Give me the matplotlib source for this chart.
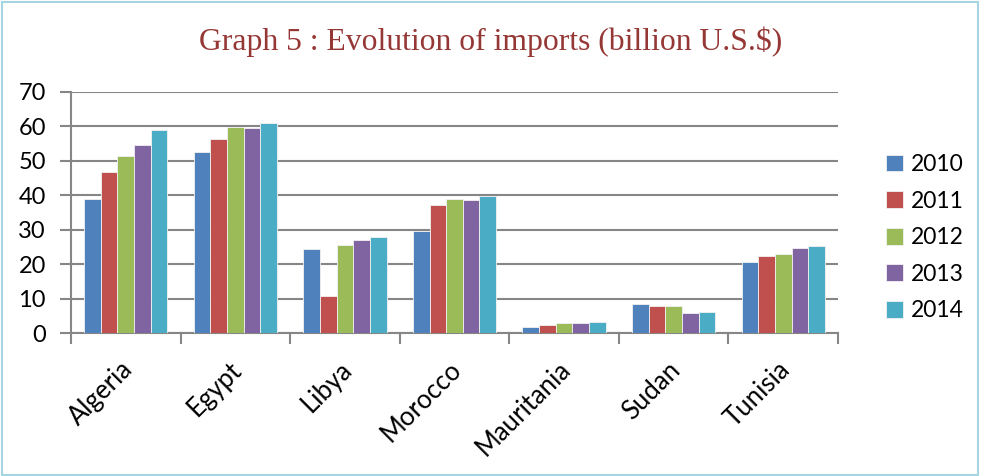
import matplotlib
matplotlib.use("Agg")
import matplotlib.pyplot as plt
import matplotlib.transforms as mtransforms
import numpy as np
from matplotlib.patches import Rectangle

categories = ["Algeria", "Egypt", "Libya", "Morocco", "Mauritania", "Sudan", "Tunisia"]
years = ["2010", "2011", "2012", "2013", "2014"]
v2010 = [38.8, 52.6, 24.3, 29.5, 1.8, 8.6, 20.8]
v2011 = [46.8, 56.4, 10.9, 37.2, 2.4, 7.9, 22.5]
v2012 = [51.5, 59.9, 25.5, 38.8, 2.9, 7.9, 23.0]
v2013 = [54.7, 59.4, 27.0, 38.6, 3.1, 5.8, 24.7]
v2014 = [58.9, 60.9, 27.8, 39.7, 3.3, 6.1, 25.3]
series = [v2010, v2011, v2012, v2013, v2014]
colors = ["#4F81BD", "#C0504D", "#9BBB59", "#8064A2", "#4BACC6"]
yticks = [0, 10, 20, 30, 40, 50, 60, 70]
title = "Graph 5 : Evolution of imports (billion U.S.$)"

plt.rcParams['font.family'] = ['Lato', 'DejaVu Sans']

fig = plt.figure(figsize=(9.81, 4.76), dpi=100)
ax = fig.add_axes([71/981, 1-333.3/476, (838-71)/981, (333.3-91.7)/476])

n = len(categories)
x = np.arange(n) + 0.5
bw = 0.152
for i, (vals, c, y) in enumerate(zip(series, colors, years)):
    ax.bar(x + (i - 2) * bw, vals, width=bw, color=c, label=y,
           edgecolor="#F2F2F2", linewidth=0.6, zorder=3)

ax.set_xlim(0, n)
ax.set_ylim(0, 70)
ax.set_yticks(yticks)
ax.set_yticklabels([str(t) for t in yticks], fontsize=17)
ax.yaxis.grid(True, color="#868686", linewidth=1.5, zorder=0)
ax.set_axisbelow(True)
ax.set_xticks(x)
ax.set_xticklabels(categories, rotation=45, ha="right", rotation_mode="anchor", fontsize=18.5)
ax.set_xticks(np.arange(n + 1), minor=True)
ax.tick_params(axis="x", which="major", length=0, pad=17)
ax.tick_params(axis="x", which="minor", length=8, width=1.5, color="#868686", direction="out")
ax.tick_params(axis="y", length=8, width=1.5, color="#868686", direction="out", pad=10)
offset = mtransforms.ScaledTranslation(-6/100, 0, fig.dpi_scale_trans)
for lbl in ax.get_xticklabels():
    lbl.set_transform(lbl.get_transform() + offset)
for s in ["top", "right"]:
    ax.spines[s].set_visible(False)
for s in ["left", "bottom"]:
    ax.spines[s].set_color("#868686")
    ax.spines[s].set_linewidth(1.5)

fig.text(0.5, 1 - 42/476, title, ha="center", va="center", fontsize=22.8,
         family="Liberation Serif", color="#953735")

leg = fig.legend(loc="upper left", bbox_to_anchor=(886/981, 1 - 154/476), frameon=False,
                 fontsize=16.5, handlelength=0.75, handleheight=0.75, handletextpad=0.35,
                 labelspacing=0.68, borderpad=0, borderaxespad=0)

fig.patches.append(Rectangle((0.002, 0.003), 0.995, 0.993, transform=fig.transFigure,
                             fill=False, edgecolor="#A5D5E2", linewidth=1.5))

fig.savefig("out.png", dpi=100)
